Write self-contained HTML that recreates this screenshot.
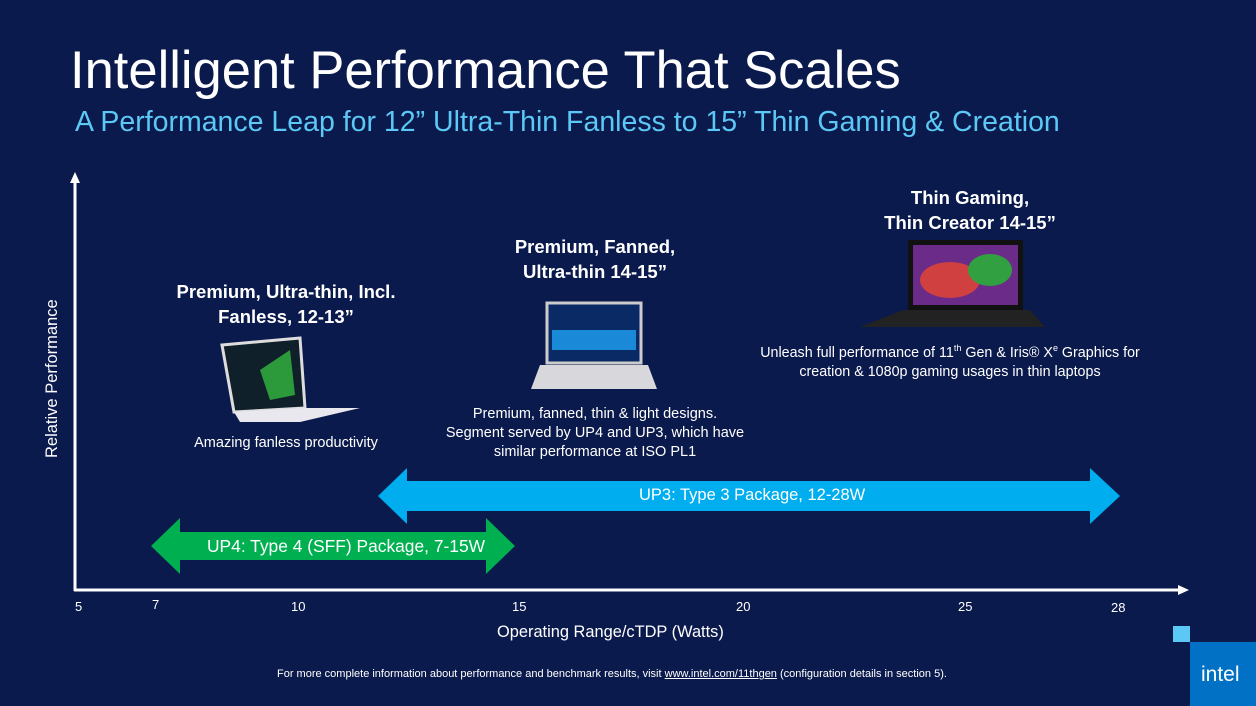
<!DOCTYPE html><html><head><style>
body{margin:0;width:1256px;height:706px;background:#0b1a4c;overflow:hidden;font-family:"Liberation Sans",sans-serif;color:#fff;position:relative}
.a{position:absolute;white-space:nowrap}
.c{text-align:center}
</style></head><body>
<div class="a" style="left:70px;top:40px;font-size:52.5px;">Intelligent Performance That Scales</div>
<div class="a" style="left:75px;top:106px;font-size:28.5px;color:#5bc8f5">A Performance Leap for 12” Ultra-Thin Fanless to 15” Thin Gaming &amp; Creation</div>
<svg class="a" style="left:0;top:0" width="1256" height="706">
<line x1="75" y1="180" x2="75" y2="591" stroke="#fff" stroke-width="3"/>
<polygon points="70,183 75,172 80,183" fill="#fff"/>
<line x1="74" y1="590" x2="1180" y2="590" stroke="#fff" stroke-width="3"/>
<polygon points="1178,585 1189,590 1178,595" fill="#fff"/>
<polygon points="151,546 180,518 180,532 486,532 486,518 515,546 486,574 486,560 180,560 180,574" fill="#00b050"/>
<polygon points="378,496 407,468 407,481 1090,481 1090,468 1120,496 1090,524 1090,511 407,511 407,524" fill="#00aeef"/>
<polygon points="222,345 300,338 305,408 234,412" fill="#10202a" stroke="#ddd" stroke-width="3"/>
<polygon points="234,412 305,408 360,408 300,422 240,422" fill="#e8e8ee"/>
<polygon points="260,370 290,350 295,395 270,400" fill="#2c9a3a"/>
<rect x="547" y="303" width="94" height="60" fill="#0a2a66" stroke="#ccc" stroke-width="3"/>
<rect x="552" y="330" width="84" height="20" fill="#1a8ad8"/>
<polygon points="540,365 648,365 657,389 531,389" fill="#d8d8dc"/>
<rect x="908" y="240" width="115" height="70" fill="#111"/>
<rect x="913" y="245" width="105" height="60" fill="#6a2c88"/>
<ellipse cx="950" cy="280" rx="30" ry="18" fill="#d04040"/>
<ellipse cx="990" cy="270" rx="22" ry="16" fill="#30a040"/>
<polygon points="903,310 1030,310 1045,327 860,327" fill="#222"/>
<rect x="1173" y="626" width="17" height="16" fill="#5bc8f5"/>
<rect x="1190" y="642" width="66" height="64" fill="#0071c5"/>
</svg>
<div class="a c" style="left:136px;width:300px;top:279px;font-size:18.5px;font-weight:bold;line-height:25px">Premium, Ultra-thin, Incl.<br>Fanless, 12-13”</div>
<div class="a c" style="left:136px;width:300px;top:435px;font-size:14.5px">Amazing fanless productivity</div>
<div class="a c" style="left:445px;width:300px;top:234px;font-size:18.5px;font-weight:bold;line-height:25px">Premium, Fanned,<br>Ultra-thin 14-15”</div>
<div class="a c" style="left:405px;width:380px;top:405px;font-size:14.5px;line-height:19px">Premium, fanned, thin &amp; light designs.<br>Segment served by UP4 and UP3, which have<br>similar performance at ISO PL1</div>
<div class="a c" style="left:805px;width:330px;top:185px;font-size:18.5px;font-weight:bold;line-height:25px">Thin Gaming,<br>Thin Creator 14-15”</div>
<div class="a c" style="left:710px;width:480px;top:339px;font-size:14.3px;line-height:19px">Unleash full performance of 11<sup style="font-size:9px">th</sup> Gen &amp; Iris® X<sup style="font-size:9px">e</sup> Graphics for<br>creation &amp; 1080p gaming usages in thin laptops</div>
<div class="a" style="left:207px;top:536px;font-size:17.4px">UP4: Type 4 (SFF) Package, 7-15W</div>
<div class="a" style="left:639px;top:486px;font-size:16.5px">UP3: Type 3 Package, 12-28W</div>
<div class="a" style="left:43px;top:458px;font-size:16.5px;transform:rotate(-90deg);transform-origin:0 0">Relative Performance</div>
<div class="a" style="left:75px;top:599px;font-size:13px">5</div>
<div class="a" style="left:152px;top:597px;font-size:13px">7</div>
<div class="a" style="left:291px;top:599px;font-size:13px">10</div>
<div class="a" style="left:512px;top:599px;font-size:13px">15</div>
<div class="a" style="left:736px;top:599px;font-size:13px">20</div>
<div class="a" style="left:958px;top:599px;font-size:13px">25</div>
<div class="a" style="left:1111px;top:600px;font-size:13px">28</div>
<div class="a" style="left:497px;top:623px;font-size:16.4px">Operating Range/cTDP (Watts)</div>
<div class="a" style="left:277px;top:668px;font-size:11px">For more complete information about performance and benchmark results, visit <u>www.intel.com/11thgen</u> (configuration details in section 5).</div>
<div class="a" style="left:1201px;top:663px;font-size:21px">intel</div>
</body></html>
